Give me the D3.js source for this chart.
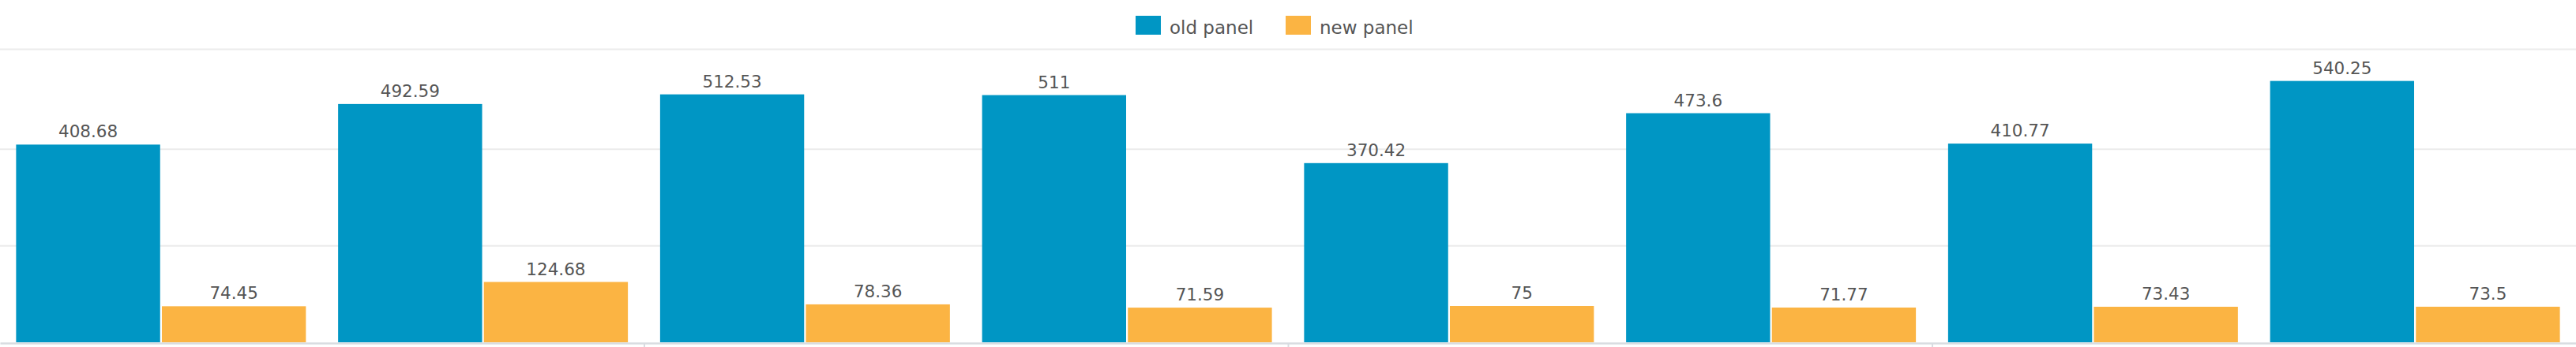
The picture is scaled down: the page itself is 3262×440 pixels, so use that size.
<!DOCTYPE html>
<html>
<head>
<meta charset="utf-8">
<script src="https://cdn.jsdelivr.net/npm/d3@7"></script>
<style>
  html, body { margin: 0; padding: 0; background: #ffffff; }
  svg { display: block; }
  text { font-family: "DejaVu Sans", Verdana, sans-serif; }
</style>
</head>
<body>
<svg id="chart" width="3262" height="440"></svg>
<script>
const categories = ["1", "2", "3", "4", "5", "6", "7", "8"];
const seriesNames = ["old panel", "new panel"];
const oldPanel = [408.68, 492.59, 512.53, 511, 370.42, 473.6, 410.77, 540.25];
const newPanel = [74.45, 124.68, 78.36, 71.59, 75, 71.77, 73.43, 73.5];
const gridTicks = [200, 400];
const xTickBoundaries = [2, 4, 6];
const colors = ["#0096c4", "#fbb443"];

const W = 3262, H = 440;
const svg = d3.select("#chart");

const x0 = d3.scaleBand().domain(categories).range([0, W]).paddingInner(0.1).paddingOuter(0.05);
const x1 = d3.scaleBand().domain(seriesNames).range([0, x0.bandwidth()]).paddingInner(0.012);
const y = d3.scaleLinear().domain([0, 600]).range([434, 66]);

// top separator line
svg.append("line").attr("x1", 0).attr("x2", W).attr("y1", 62.5).attr("y2", 62.5)
  .attr("stroke", "#ebebeb").attr("stroke-width", 2);

// gridlines
const grid = svg.append("g").attr("class", "grid")
  .call(d3.axisLeft(y).tickValues(gridTicks).tickSize(-W).tickFormat(""));
grid.select(".domain").remove();
grid.selectAll("line").attr("stroke", "#ebebeb").attr("stroke-width", 2);

// bars
const data = categories.map((c, i) => ({ cat: c, values: [
  { key: seriesNames[0], v: oldPanel[i], idx: 0 },
  { key: seriesNames[1], v: newPanel[i], idx: 1 }
]}));

const groups = svg.append("g").selectAll("g").data(data).join("g")
  .attr("transform", d => `translate(${x0(d.cat)},0)`);

groups.selectAll("rect").data(d => d.values).join("rect")
  .attr("x", d => x1(d.key))
  .attr("width", x1.bandwidth())
  .attr("y", d => y(d.v))
  .attr("height", d => y(0) - y(d.v))
  .attr("fill", d => colors[d.idx]);

groups.selectAll("text.val").data(d => d.values).join("text")
  .attr("class", "val")
  .attr("x", d => x1(d.key) + x1.bandwidth() / 2)
  .attr("y", d => y(d.v) - 9)
  .attr("text-anchor", "middle")
  .attr("font-size", 21.5)
  .attr("fill", "#555555")
  .text(d => d.v);

// x axis line + ticks
const xi = d3.scaleLinear().domain([0, categories.length]).range([0, W]);
const xAxis = svg.append("g").attr("transform", "translate(0,435)")
  .call(d3.axisBottom(xi).tickValues(xTickBoundaries).tickSize(6).tickSizeOuter(0).tickFormat(""));
xAxis.select(".domain").attr("stroke", "#d8dce1").attr("stroke-width", 2.5);
xAxis.selectAll(".tick line").attr("stroke", "#d8dce1").attr("stroke-width", 2);

// legend
const legendItems = [
  { name: seriesNames[0], color: colors[0], x: 1438 },
  { name: seriesNames[1], color: colors[1], x: 1628 }
];
const lg = svg.append("g");
legendItems.forEach(it => {
  lg.append("rect").attr("x", it.x).attr("y", 20).attr("width", 32).attr("height", 24).attr("fill", it.color);
  lg.append("text").attr("x", it.x + 43).attr("y", 42.5).attr("font-size", 23).attr("fill", "#555555").text(it.name);
});
</script>
</body>
</html>
